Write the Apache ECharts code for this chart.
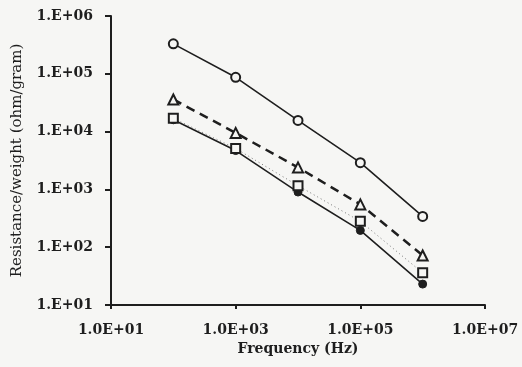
<!DOCTYPE html>
<html>
<head>
<meta charset="utf-8">
<script src="https://cdn.jsdelivr.net/npm/echarts@6/dist/echarts.min.js"></script>
<style>
  html, body { margin: 0; padding: 0; background: #f6f6f4; }
  #chart { width: 522px; height: 367px; }
</style>
</head>
<body>
<div id="chart"></div>
<script>
// Frequency points (Hz)
var frequencies = [100, 1000, 10000, 100000, 1000000];
// Resistance per weight (ohm/gram) for each sample
var openCircle = [3.3e5, 8.7e4, 1.56e4, 2.9e3, 340];
var openTriangle = [3.6e4, 9.5e3, 2.4e3, 550, 72];
var openSquare = [1.7e4, 5.1e3, 1.16e3, 280, 36];
var filledCircle = [1.6e4, 4.7e3, 900, 195, 23];

function pairs(vals) {
  return frequencies.map(function (f, i) { return [f, vals[i]]; });
}
function expStr(v) {
  var e = Math.round(Math.log10(v));
  return (e < 10 ? '0' : '') + e;
}

var font = '"DejaVu Serif", "Liberation Serif", serif';
var ink = '#1e1e1e';
var paper = '#f6f6f4';

var chart = echarts.init(document.getElementById('chart'));
chart.setOption({
  backgroundColor: paper,
  animation: false,
  grid: { left: 111, right: 37, top: 16, bottom: 62 },
  xAxis: {
    type: 'log',
    logBase: 10,
    min: 10,
    max: 1e7,
    interval: 2,
    name: 'Frequency (Hz)',
    nameLocation: 'middle',
    nameGap: 36,
    nameTextStyle: { fontFamily: font, fontSize: 14, fontWeight: 'bold', color: ink },
    axisLine: { lineStyle: { color: ink, width: 2 } },
    axisTick: { show: true, inside: false, length: 4, lineStyle: { color: ink, width: 2 } },
    axisLabel: {
      margin: 18,
      fontFamily: font, fontSize: 14, fontWeight: 'bold', color: ink,
      formatter: function (v) { return '1.0E+' + expStr(v); }
    },
    splitLine: { show: false },
    minorTick: { show: false }
  },
  yAxis: {
    type: 'log',
    logBase: 10,
    min: 10,
    max: 1e6,
    interval: 1,
    name: 'Resistance/weight (ohm/gram)',
    nameLocation: 'middle',
    nameGap: 86,
    nameTextStyle: { fontFamily: font, fontSize: 15, color: ink },
    axisLine: { show: true, lineStyle: { color: ink, width: 2 } },
    axisTick: { show: true, inside: false, length: 6, lineStyle: { color: ink, width: 2 } },
    axisLabel: {
      margin: 18,
      fontFamily: font, fontSize: 14, fontWeight: 'bold', color: ink,
      formatter: function (v) { return '1.E+' + expStr(v); }
    },
    splitLine: { show: false }
  },
  series: [
    {
      name: 'filled circle',
      type: 'line',
      data: pairs(filledCircle),
      symbol: 'circle',
      symbolSize: 8,
      itemStyle: { color: ink, borderColor: ink, borderWidth: 1 },
      lineStyle: { color: ink, width: 1.6 },
      z: 2
    },
    {
      name: 'open square',
      type: 'line',
      data: pairs(openSquare),
      symbol: 'rect',
      symbolSize: 9,
      itemStyle: { color: paper, borderColor: ink, borderWidth: 2 },
      lineStyle: { color: '#777', width: 1, type: [1, 3] },
      z: 3
    },
    {
      name: 'open triangle',
      type: 'line',
      data: pairs(openTriangle),
      symbol: 'triangle',
      symbolSize: 10,
      itemStyle: { color: paper, borderColor: ink, borderWidth: 2 },
      lineStyle: { color: ink, width: 2.5, type: [9, 6] },
      z: 4
    },
    {
      name: 'open circle',
      type: 'line',
      data: pairs(openCircle),
      symbol: 'circle',
      symbolSize: 9,
      itemStyle: { color: paper, borderColor: ink, borderWidth: 2 },
      lineStyle: { color: ink, width: 1.6 },
      z: 5
    }
  ]
});
</script>
</body>
</html>
